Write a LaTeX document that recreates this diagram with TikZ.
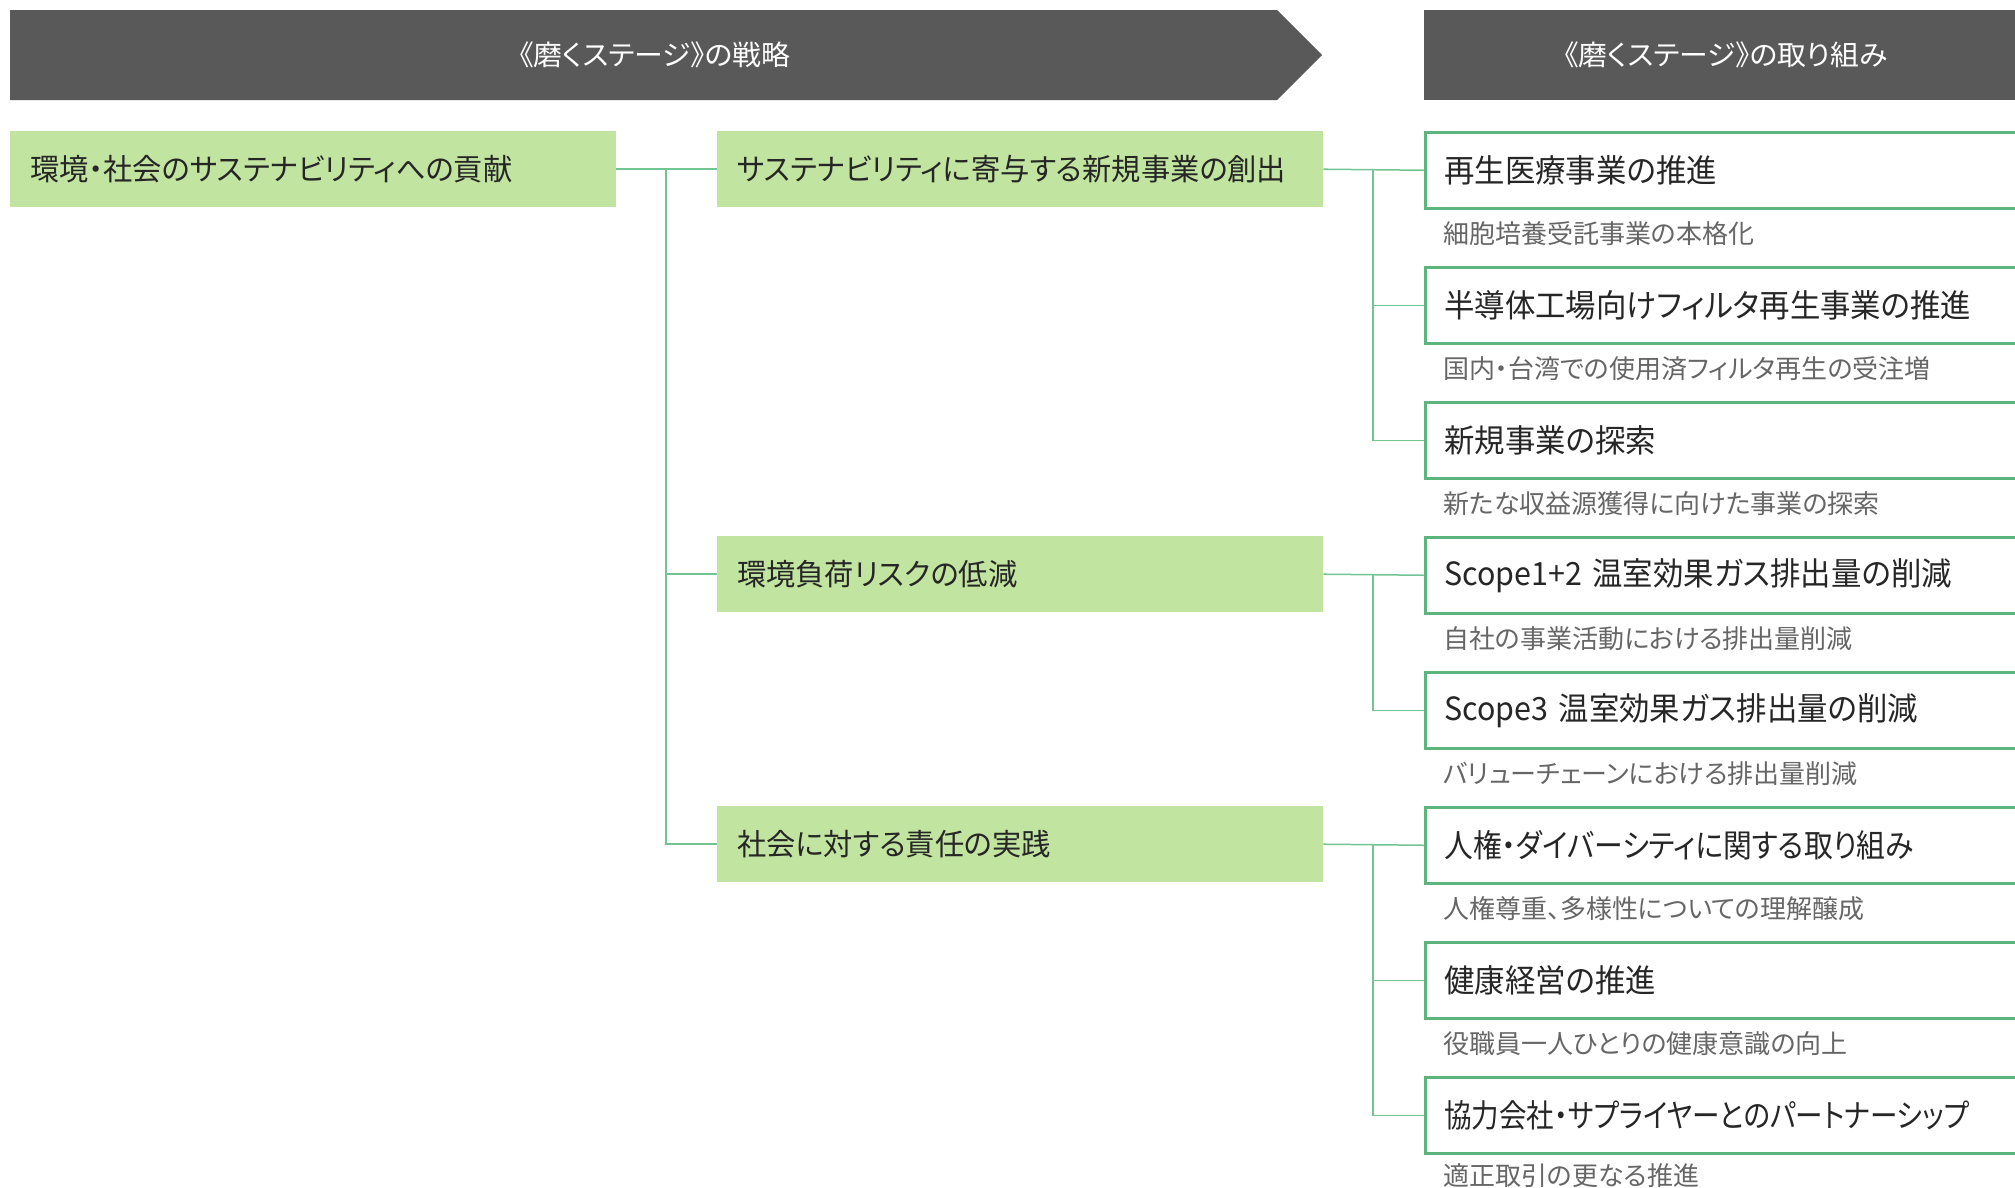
\documentclass[tikz,border=0pt]{standalone}
\usepackage{fontspec}
\newfontfamily\jpHead[FakeStretch=1.03,RawFeature={+palt}]{Noto Sans CJK JP}
\newfontfamily\jpBox[FakeStretch=0.975,RawFeature={+palt}]{Noto Sans CJK JP}
\newfontfamily\jpItem[FakeStretch=0.95,RawFeature={+palt}]{Noto Sans CJK JP}
\newfontfamily\jpItemN[FakeStretch=0.9,RawFeature={+palt}]{Noto Sans CJK JP}
\newfontfamily\jpItemNN[FakeStretch=0.86,RawFeature={+palt}]{Noto Sans CJK JP}
\newfontfamily\jpSub[FakeStretch=1.0,RawFeature={+palt}]{Noto Sans CJK JP}
\definecolor{headgray}{HTML}{595959}
\definecolor{boxgreen}{HTML}{C1E5A0}
\definecolor{bordergreen}{HTML}{5BB57C}
\definecolor{linegreen}{HTML}{72C593}
\definecolor{textdark}{HTML}{262626}
\definecolor{subgray}{HTML}{666666}
\begin{document}
\begin{tikzpicture}[x=1pt,y=1pt,
  headtxt/.style={text=white,font=\jpHead\fontsize{28}{32}\selectfont,inner sep=0},
  grbox/.style={fill=boxgreen,draw=none,anchor=north west,minimum height=76,
    inner xsep=20,inner ysep=0,text width=566,align=left,text=textdark,
    font=\jpBox\fontsize{30}{36}\selectfont},
  itembox/.style={draw=bordergreen,line width=2.5,fill=white,anchor=north west,
    minimum height=76,inner xsep=19,inner ysep=0,text width=600,align=left,
    text=textdark,font=\jpItem\fontsize{32}{38}\selectfont},
  narrow/.style={font=\jpItemN\fontsize{32}{38}\selectfont},
  narrower/.style={font=\jpItemNN\fontsize{32}{38}\selectfont},
  subtxt/.style={anchor=west,inner sep=0,text=subgray,
    font=\jpSub\fontsize{26}{30}\selectfont},
  conn/.style={draw=linegreen,line width=1.5}]
\useasboundingbox (0,0) rectangle (2015,-1187);
\clip (0,0) rectangle (2015,-1187);
% headers
\fill[headgray] (10,-10) -- (1277,-10) -- (1322,-55) -- (1277,-100) -- (10,-100) -- cycle;
\node[headtxt] (h1) at (655,-55) {《磨くステージ》の戦略};
\fill[headgray] (1424,-10) rectangle (2020,-100);
\node[headtxt] (h2) at (1726,-55) {《磨くステージ》の取り組み};
% strategy boxes
\node[grbox] (A) at (10,-131) {環境・社会のサステナビリティへの貢献};
\node[grbox] (B) at (717,-131) {サステナビリティに寄与する新規事業の創出};
\node[grbox] (C) at (717,-536) {環境負荷リスクの低減};
\node[grbox] (D) at (717,-806) {社会に対する責任の実践};
% items
\node[itembox] (i1) at (1424,-131) {再生医療事業の推進};
\node[itembox] (i2) at (1424,-266) {半導体工場向けフィルタ再生事業の推進};
\node[itembox] (i3) at (1424,-401) {新規事業の探索};
\node[itembox] (i4) at (1424,-536) {Scope1+2 温室効果ガス排出量の削減};
\node[itembox] (i5) at (1424,-671) {Scope3 温室効果ガス排出量の削減};
\node[itembox,narrow] (i6) at (1424,-806) {人権・ダイバーシティに関する取り組み};
\node[itembox] (i7) at (1424,-941) {健康経営の推進};
\node[itembox,narrower] (i8) at (1424,-1076) {協力会社・サプライヤーとのパートナーシップ};
% sub texts
\node[subtxt] (s1) at (1443,-234) {細胞培養受託事業の本格化};
\node[subtxt] (s2) at (1443,-369) {国内・台湾での使用済フィルタ再生の受注増};
\node[subtxt] (s3) at (1443,-504) {新たな収益源獲得に向けた事業の探索};
\node[subtxt] (s4) at (1443,-639) {自社の事業活動における排出量削減};
\node[subtxt] (s5) at (1443,-774) {バリューチェーンにおける排出量削減};
\node[subtxt] (s6) at (1443,-909) {人権尊重、多様性についての理解醸成};
\node[subtxt] (s7) at (1443,-1044) {役職員一人ひとりの健康意識の向上};
\node[subtxt] (s8) at (1443,-1176) {適正取引の更なる推進};
% connectors
\coordinate (j1) at (666,-169);
\coordinate (j2) at (1373,-169);
\draw[conn] (A.east) -- (B.west);
\draw[conn] (j1) |- (C.west);
\draw[conn] (j1) |- (D.west);
\draw[conn] (B.east) -- (i1.west);
\draw[conn] (j2) |- (i2.west);
\draw[conn] (j2) |- (i3.west);
\draw[conn] (C.east) -- (i4.west);
\draw[conn] (C.east -| j2) |- (i5.west);
\draw[conn] (D.east) -- (i6.west);
\draw[conn] (D.east -| j2) |- (i7.west);
\draw[conn] (D.east -| j2) |- (i8.west);
\end{tikzpicture}
\end{document}
